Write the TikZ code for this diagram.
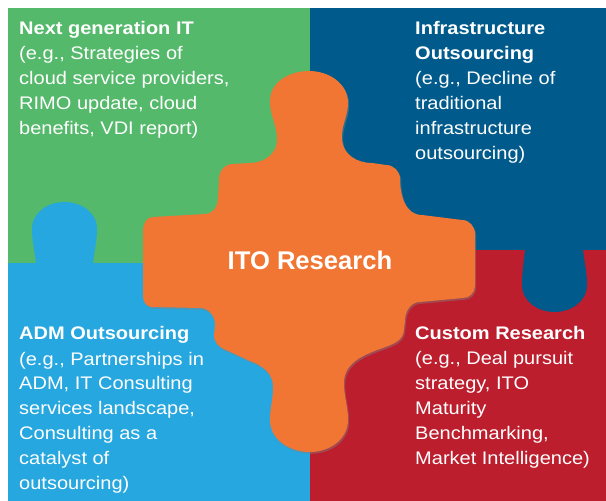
\documentclass[tikz,border=0pt]{standalone}
\usepackage{fontspec}
\setmainfont{Liberation Sans}[FakeStretch=1.1]
\newfontfamily\bigfont{Liberation Sans}
\usetikzlibrary{shadows}
\definecolor{itgreen}{RGB}{84,185,106}
\definecolor{infrablue}{RGB}{0,91,140}
\definecolor{admblue}{RGB}{39,167,223}
\definecolor{customred}{RGB}{188,30,46}
\definecolor{itoorange}{RGB}{241,117,51}

\begin{document}
\begin{tikzpicture}
		[x=1pt,y=1pt,
		 label/.style={anchor=base west,align=left,inner sep=0pt,text=white,font=\fontsize{18.2}{25}\selectfont},
		 piece/.style={fill=itoorange,drop shadow={shadow xshift=1.2pt,shadow yshift=-1.8pt,opacity=.45}}]

		\useasboundingbox (0,0) rectangle (606,501);
		\fill[white] (0,0) rectangle (606,501);

		% four quarters
		\fill[itgreen] (8,238) rectangle (310,493);
		\fill[infrablue] (310,251) rectangle (606,493);
		\fill[admblue] (8,0) rectangle (310,238);
		\fill[customred] (310,0) rectangle (606,251);

		% tabs
		\fill[admblue] (36,237) to[out=95,in=-90] (32,272) to[out=90,in=180] (64.5,299)
			to[out=0,in=90] (97,272) to[out=-90,in=85] (93,237) -- cycle;
		\fill[infrablue] (525,252) to[out=-95,in=90] (522,216) to[out=-90,in=180] (554.5,189)
			to[out=0,in=-90] (587,216) to[out=90,in=-85] (583,252) -- cycle;

		% centre piece
		\fill[piece] (309,430) to[out=0,in=90] (348,398) to[out=-90,in=95] (342,361)
			to[out=-85,in=180] (372,338) -- (386,336) to[out=0,in=90] (400,322)
			to[out=-90,in=180] (422,286) -- (462,281) to[out=0,in=90] (475,267)
			-- (475,215) to[out=-90,in=0] (463,203) -- (420,199) to[out=180,in=90] (405,180)
			-- (404,172) to[out=-90,in=20] (380,152) to[out=200,in=90] (344,118)
			to[out=-90,in=90] (348,81) to[out=-90,in=0] (310,49) to[out=180,in=-90] (270,81)
			to[out=90,in=-90] (273,114) to[out=90,in=-20] (250,140) -- (226,151)
			to[out=160,in=-90] (214,166) -- (215,176) to[out=90,in=0] (200,193)
			-- (152,194) to[out=180,in=-90] (143,205) -- (143,270) to[out=90,in=180] (153,284)
			-- (205,287) to[out=0,in=-90] (218,303) -- (219,322) to[out=90,in=180] (233,337)
			-- (250,338) to[out=0,in=-90] (277,361) to[out=90,in=-90] (270,400)
			to[out=90,in=180] cycle;

		% texts (placed by the baseline of their last line)
		\node[label] (nextgen) at (19,366) {\textbf{Next generation IT}\\(e.g., Strategies of\\cloud service providers,\\RIMO update, cloud\\benefits, VDI report)};
		\node[label] (infra) at (415,341) {\textbf{Infrastructure}\\\textbf{Outsourcing}\\(e.g., Decline of\\traditional\\infrastructure\\outsourcing)};
		\node[label] (adm) at (19,11) {\textbf{ADM Outsourcing}\\(e.g., Partnerships in\\ADM, IT Consulting\\services landscape,\\Consulting as a\\catalyst of\\outsourcing)};
		\node[label] (custom) at (415,36) {\textbf{Custom Research}\\(e.g., Deal pursuit\\strategy, ITO\\Maturity\\Benchmarking,\\Market Intelligence)};
		\node[text=white,font=\bigfont\fontsize{25.6}{30}\selectfont\bfseries] (ito) at (310,241) {ITO Research};
	\end{tikzpicture}
\end{document}
